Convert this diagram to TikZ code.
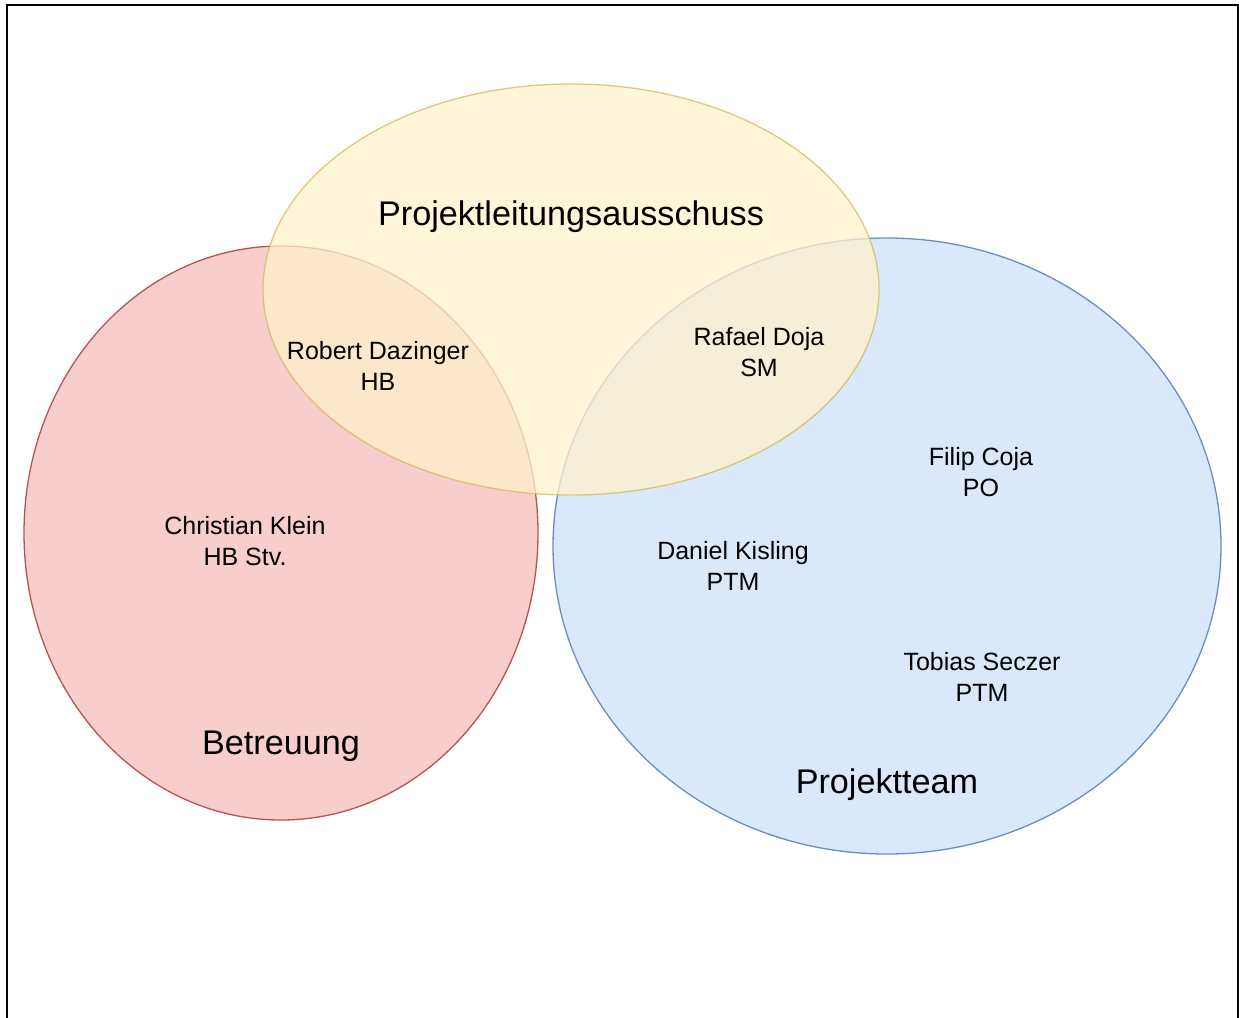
\documentclass[tikz,border=0pt]{standalone}
\usepackage{fontspec}
\setmainfont{Liberation Sans}
\usetikzlibrary{positioning}

\definecolor{pinkfill}{HTML}{F8CECC}
\definecolor{pinkline}{HTML}{B85450}
\definecolor{bluefill}{HTML}{DAE8FC}
\definecolor{blueline}{HTML}{6C8EBF}
\definecolor{yellowfill}{HTML}{FFF2CC}
\definecolor{yellowline}{HTML}{D6B656}

\tikzset{
  person/.style={align=center, font=\fontsize{25}{30.5}\selectfont, inner sep=0pt},
  group/.style={font=\fontsize{34.2}{40}\selectfont, inner sep=0pt}
}

\begin{document}
\begin{tikzpicture}[x=1pt, y=-1pt]
  \useasboundingbox (0, 0) rectangle (1239, 1017);
  \draw[line width=2.7pt] (7, 1020) -- (7, 5) -- (1238, 5) -- (1238, 1020);

  \draw[fill=pinkfill, draw=pinkline, line width=1.3pt] (281, 533) ellipse [x radius=257, y radius=287];
  \draw[fill=bluefill, draw=blueline, line width=1.3pt] (887, 546) ellipse [x radius=334, y radius=308];
  \draw[fill=yellowfill, draw=yellowline, line width=1.3pt, fill opacity=0.75, draw opacity=0.75] (571, 289.5) ellipse [x radius=308, y radius=205.5];

  \node[group] (pla) at (571, 217) {Projektleitungsausschuss};
  \node[group] (betreuung) at (281, 746) {Betreuung};
  \node[group] (team) at (887, 785) {Projektteam};

  \node[person] (dazinger) at (378, 366) {Robert Dazinger\\HB};
  \node[person] (doja) at (759, 352) {Rafael Doja\\SM};
  \node[person] (klein) at (245, 541) {Christian Klein\\HB Stv.};
  \node[person] (coja) at (981, 472) {Filip Coja\\PO};
  \node[person] (kisling) at (733, 566) {Daniel Kisling\\PTM};
  \node[person] (seczer) at (982, 677) {Tobias Seczer\\PTM};
\end{tikzpicture}
\end{document}
